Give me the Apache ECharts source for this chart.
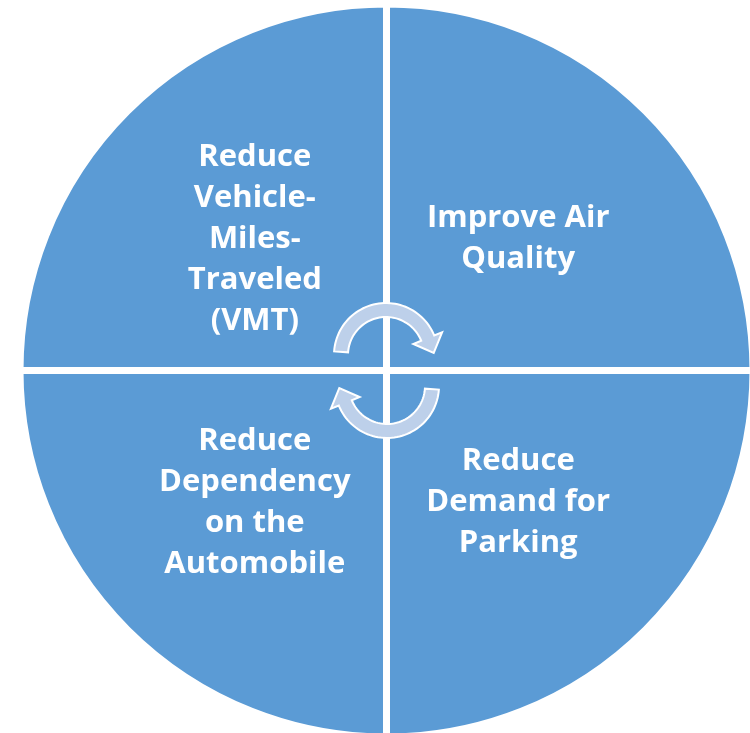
<!DOCTYPE html>
<html>
<head>
<meta charset="utf-8">
<script src="https://cdn.jsdelivr.net/npm/echarts@6/dist/echarts.min.js"></script>
<style>
  html, body { margin: 0; padding: 0; background: #fff; }
  #chart { width: 750px; height: 733px; }
</style>
</head>
<body>
<div id="chart"></div>
<script>
// quadrants, clockwise from the top right
var categories = [
    'Improve Air\nQuality',
    'Reduce\nDemand for\nParking',
    'Reduce\nDependency\non the\nAutomobile',
    'Reduce\nVehicle-\nMiles-\nTraveled\n(VMT)'
];
var values = [1, 1, 1, 1];

var chart = echarts.init(document.getElementById('chart'));

var cx = 386.5, cy = 370.5;

// circular arrow in the middle, built as a polygon
function arrowPoints(acx, acy) {
    var rm = 45, hw = 7, hh = 15.5, len = 16;
    var a0 = 176, a1 = 22;
    var pts = [];
    function at(a, r) {
        var t = a * Math.PI / 180;
        return [acx + r * Math.cos(t), acy - r * Math.sin(t)];
    }
    for (var a = a0; a >= a1; a -= 3) pts.push(at(a, rm + hw));
    pts.push(at(a1, rm + hw));
    pts.push(at(a1, rm + hh));
    var t1 = a1 * Math.PI / 180;
    var bc = at(a1, rm);
    pts.push([bc[0] + len * Math.sin(t1), bc[1] + len * Math.cos(t1)]);
    pts.push(at(a1, rm - hh));
    pts.push(at(a1, rm - hw));
    for (var b = a1; b <= a0; b += 3) pts.push(at(b, rm - hw));
    pts.push(at(a0, rm - hw));
    return pts;
}

var topArrow = arrowPoints(386, 355);
var bottomArrow = topArrow.map(function (p) {
    return [2 * cx - p[0], 2 * cy - p[1]];
});

var arrowStyle = {
    fill: '#bdd0ea',
    stroke: '#ffffff',
    lineWidth: 2
};

var option = {
    backgroundColor: '#ffffff',
    animation: false,
    series: [{
        type: 'pie',
        center: [cx, cy],
        radius: [0, 366.5],
        startAngle: 90,
        clockwise: true,
        silent: true,
        itemStyle: {
            color: '#5b9bd5',
            borderColor: '#ffffff',
            borderWidth: 7
        },
        label: {
            show: true,
            position: 'inner',
            formatter: '{b}',
            color: '#ffffff',
            fontFamily: 'Open Sans',
            fontWeight: 'bold',
            fontSize: 31,
            lineHeight: 41,
            align: 'center',
            padding: [4, 0, 0, 0]
        },
        labelLine: { show: false },
        data: categories.map(function (c, i) {
            return { name: c, value: values[i] };
        })
    }],
    graphic: [
        { type: 'polygon', z: 100, shape: { points: topArrow }, style: arrowStyle },
        { type: 'polygon', z: 100, shape: { points: bottomArrow }, style: arrowStyle }
    ]
};

chart.setOption(option);
</script>
</body>
</html>
